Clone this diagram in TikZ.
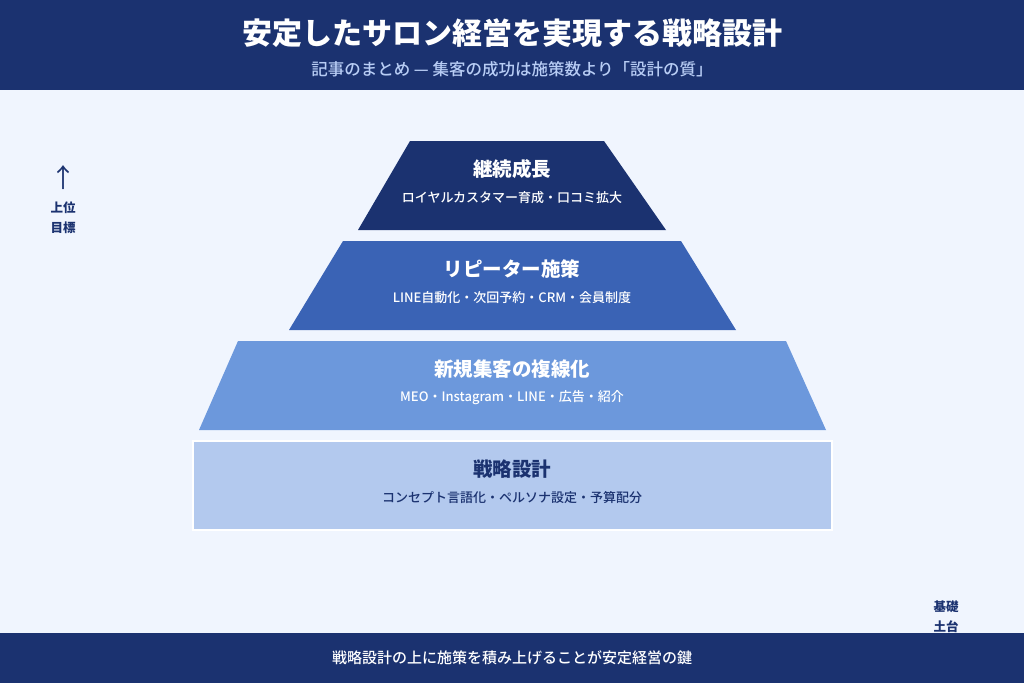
\documentclass[tikz,border=0pt]{standalone}
\usepackage{fontspec}
\setmainfont{Noto Sans CJK JP}
\newfontfamily\med{Noto Sans CJK JP Medium}
\definecolor{navy}{HTML}{1B3270}
\definecolor{bg}{HTML}{F0F5FE}
\definecolor{l2}{HTML}{3A63B5}
\definecolor{l3}{HTML}{6C98DC}
\definecolor{l4}{HTML}{B3C9EE}
\definecolor{sub}{HTML}{B8CDF5}
\begin{document}
\begin{tikzpicture}[x=1pt,y=-1pt,
  ttl/.style={font=\fontsize{19.5}{22}\selectfont\bfseries},
  dsc/.style={font=\fontsize{13}{15}\selectfont\med},
  side/.style={font=\fontsize{12.5}{20}\selectfont\bfseries,text=navy,align=center}]
\useasboundingbox (0,0) rectangle (1024,683);
\fill[bg] (0,0) rectangle (1024,683);
\fill[navy] (0,0) rectangle (1024,90);
\node[text=white,font=\fontsize{30}{34}\selectfont\bfseries] (title) at (512,33) {安定したサロン経営を実現する戦略設計};
\node[text=sub,font=\fontsize{16.5}{19}\selectfont\med] (subt) at (512,69) {記事のまとめ — 集客の成功は施策数より「設計の質」};
\fill[navy] (410,141) -- (604,141) -- (666,230) -- (358,230) -- cycle;
\fill[l2] (343,241) -- (681,241) -- (736,330) -- (289,330) -- cycle;
\fill[l3] (238,341) -- (786,341) -- (826,430) -- (199,430) -- cycle;
\draw[white,line width=1.5,fill=l4] (193,441) rectangle (832,530);
\node[ttl,text=white] (a1) at (512,169) {継続成長};
\node[dsc,text=white] (b1) at (512,198) {ロイヤルカスタマー育成・口コミ拡大};
\node[ttl,text=white] (a2) at (512,269) {リピーター施策};
\node[dsc,text=white] (b2) at (512,298) {LINE自動化・次回予約・CRM・会員制度};
\node[ttl,text=white] (a3) at (512,369) {新規集客の複線化};
\node[dsc,text=white] (b3) at (512,398) {MEO・Instagram・LINE・広告・紹介};
\node[ttl,text=navy] (a4) at (512,469) {戦略設計};
\node[dsc,text=navy] (b4) at (512,498) {コンセプト言語化・ペルソナ設定・予算配分};
\node[text=navy,font=\fontsize{26}{26}\selectfont] (arr) at (63,178) {↑};
\node[side] (up) at (63,218) {上位\\目標};
\node[side] (base) at (946,617) {基礎\\土台};
\fill[navy] (0,633) rectangle (1024,683);
\node[text=white,font=\fontsize{15}{17}\selectfont\med] (foot) at (512,658) {戦略設計の上に施策を積み上げることが安定経営の鍵};
\end{tikzpicture}
\end{document}
